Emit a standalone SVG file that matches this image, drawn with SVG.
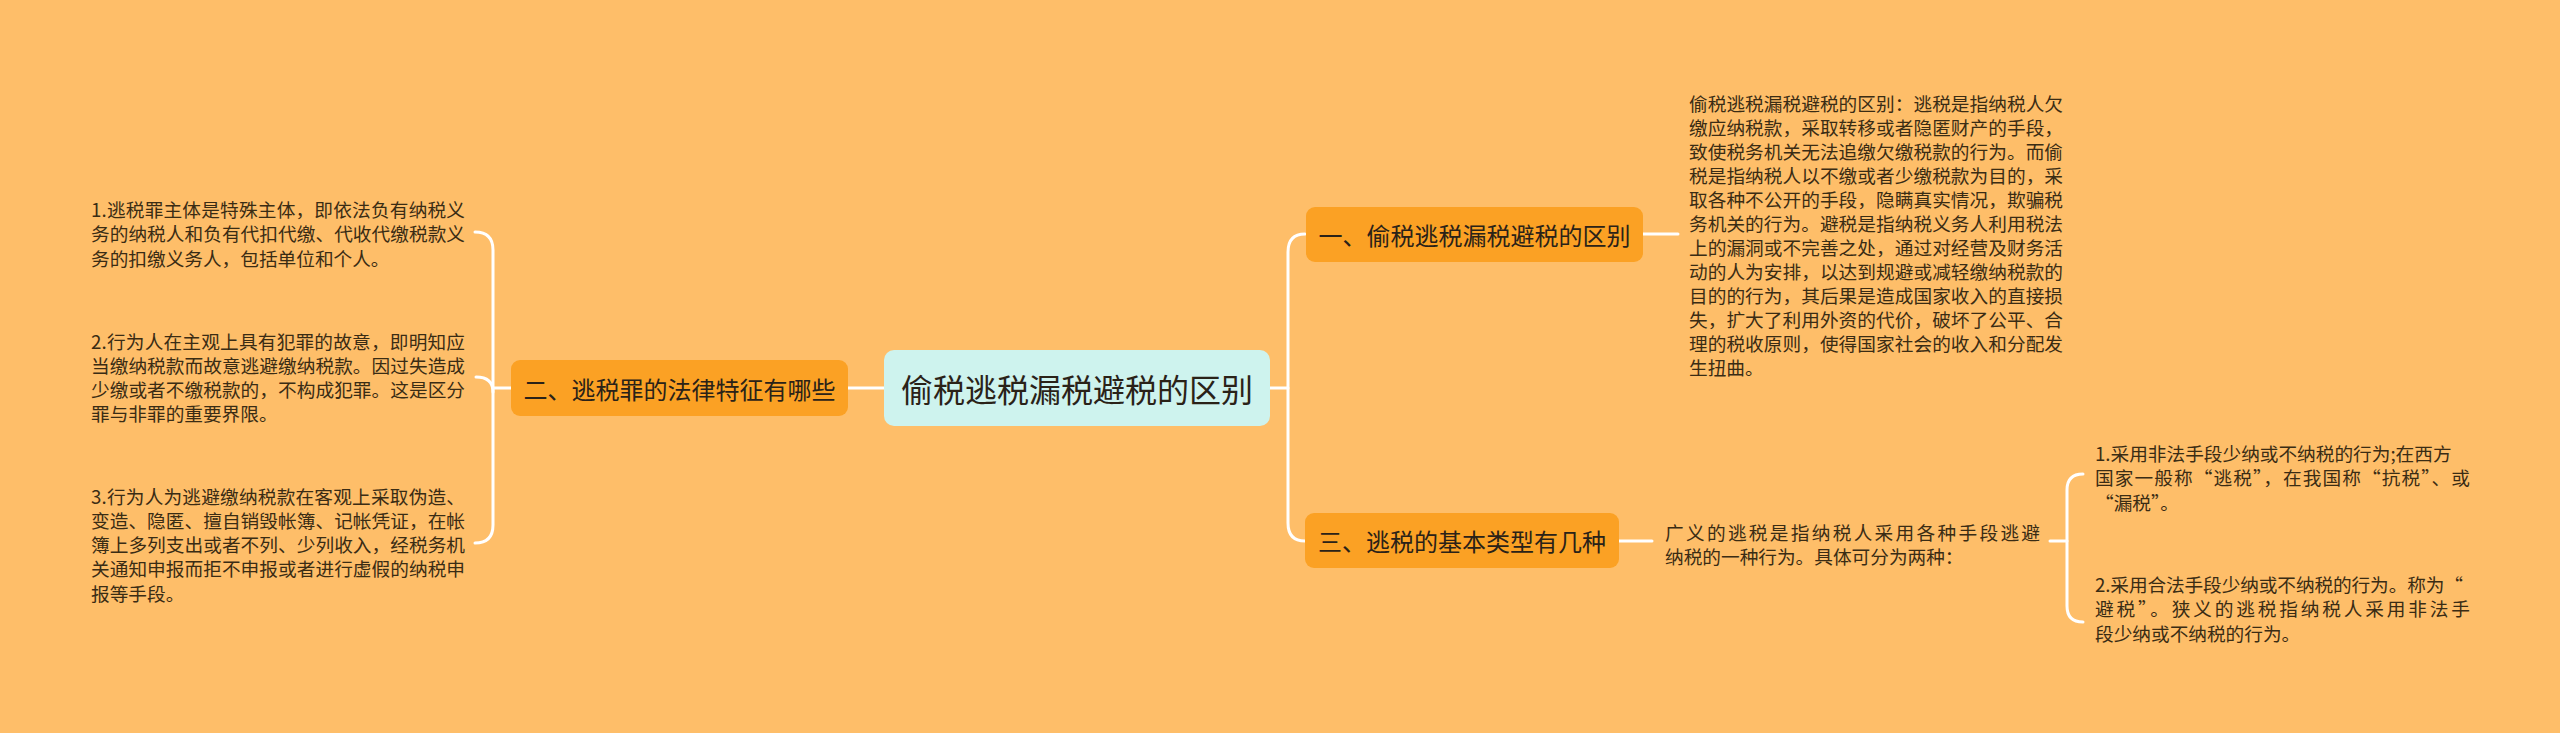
<svg xmlns="http://www.w3.org/2000/svg" width="2560" height="733" viewBox="0 0 2560 733">
<style>
.bg{fill:#FEBE69}
.node{fill:#FBA124}
.root{fill:#CEF3EE}
.lbl{font-family:"Noto Sans CJK SC","Noto Sans",sans-serif;fill:#2a2218;text-anchor:middle;dominant-baseline:central}
.t{font-family:"Noto Sans CJK SC","Noto Sans",sans-serif;font-size:18.67px;fill:#3a2c14;dominant-baseline:central}
.c{fill:none;stroke:#FFFFFF;stroke-width:3;stroke-linecap:round;stroke-linejoin:round}
</style>
<rect class="bg" x="0" y="0" width="2560" height="733"/>
<g id="connectors">
<path class="c" d="M884,388 H848"/>
<path class="c" d="M512,388 H493 V250 Q493,232 475,232"/>
<path class="c" d="M493,392 Q493,377 476,377"/>
<path class="c" d="M493,388 V525 Q493,543 475,543"/>
<path class="c" d="M1270,388 H1288 V252 Q1288,234 1305,234"/>
<path class="c" d="M1288,388 V523 Q1288,541 1305,541"/>
<path class="c" d="M1643,234 H1678"/>
<path class="c" d="M1619,541 H1652"/>
<path class="c" d="M2050,541 H2067 V490 Q2067,474 2083,474"/>
<path class="c" d="M2067,541 V606 Q2067,622 2083,622"/>
</g>
<g id="root">
<rect class="root" x="884" y="350" width="386" height="76" rx="10"/>
<text class="lbl" x="1077" y="388" font-size="32">偷税逃税漏税避税的区别</text>
</g>
<g id="n2">
<rect class="node" x="511" y="360" width="337" height="56" rx="9"/>
<text class="lbl" x="679.5" y="388" font-size="24">二、逃税罪的法律特征有哪些</text>
</g>
<g id="n1">
<rect class="node" x="1306" y="207" width="337" height="55" rx="9"/>
<text class="lbl" x="1474.5" y="234" font-size="24">一、偷税逃税漏税避税的区别</text>
</g>
<g id="n3">
<rect class="node" x="1305" y="513" width="314" height="55" rx="9"/>
<text class="lbl" x="1462" y="540.5" font-size="24">三、逃税的基本类型有几种</text>
</g>
<g id="n2-1">
<text class="t" x="91" y="208" textLength="374" lengthAdjust="spacing">1.逃税罪主体是特殊主体，即依法负有纳税义</text>
<text class="t" x="91" y="232.5" textLength="374" lengthAdjust="spacing">务的纳税人和负有代扣代缴、代收代缴税款义</text>
<text class="t" x="91" y="257">务的扣缴义务人，包括单位和个人。</text>
</g>
<g id="n2-2">
<text class="t" x="91" y="340" textLength="374" lengthAdjust="spacing">2.行为人在主观上具有犯罪的故意，即明知应</text>
<text class="t" x="91" y="364" textLength="374" lengthAdjust="spacing">当缴纳税款而故意逃避缴纳税款。因过失造成</text>
<text class="t" x="91" y="388" textLength="374" lengthAdjust="spacing">少缴或者不缴税款的，不构成犯罪。这是区分</text>
<text class="t" x="91" y="412">罪与非罪的重要界限。</text>
</g>
<g id="n2-3">
<text class="t" x="91" y="495" textLength="374" lengthAdjust="spacing">3.行为人为逃避缴纳税款在客观上采取伪造、</text>
<text class="t" x="91" y="519.2" textLength="374" lengthAdjust="spacing">变造、隐匿、擅自销毁帐簿、记帐凭证，在帐</text>
<text class="t" x="91" y="543.5" textLength="374" lengthAdjust="spacing">簿上多列支出或者不列、少列收入，经税务机</text>
<text class="t" x="91" y="567.7" textLength="374" lengthAdjust="spacing">关通知申报而拒不申报或者进行虚假的纳税申</text>
<text class="t" x="91" y="592">报等手段。</text>
</g>
<g id="n1-1">
<text class="t" x="1689" y="102" textLength="374" lengthAdjust="spacing">偷税逃税漏税避税的区别：逃税是指纳税人欠</text>
<text class="t" x="1689" y="126" textLength="374" lengthAdjust="spacing">缴应纳税款，采取转移或者隐匿财产的手段，</text>
<text class="t" x="1689" y="150" textLength="374" lengthAdjust="spacing">致使税务机关无法追缴欠缴税款的行为。而偷</text>
<text class="t" x="1689" y="174" textLength="374" lengthAdjust="spacing">税是指纳税人以不缴或者少缴税款为目的，采</text>
<text class="t" x="1689" y="198" textLength="374" lengthAdjust="spacing">取各种不公开的手段，隐瞒真实情况，欺骗税</text>
<text class="t" x="1689" y="222" textLength="374" lengthAdjust="spacing">务机关的行为。避税是指纳税义务人利用税法</text>
<text class="t" x="1689" y="246" textLength="374" lengthAdjust="spacing">上的漏洞或不完善之处，通过对经营及财务活</text>
<text class="t" x="1689" y="270" textLength="374" lengthAdjust="spacing">动的人为安排，以达到规避或减轻缴纳税款的</text>
<text class="t" x="1689" y="294" textLength="374" lengthAdjust="spacing">目的的行为，其后果是造成国家收入的直接损</text>
<text class="t" x="1689" y="318" textLength="374" lengthAdjust="spacing">失，扩大了利用外资的代价，破坏了公平、合</text>
<text class="t" x="1689" y="342" textLength="374" lengthAdjust="spacing">理的税收原则，使得国家社会的收入和分配发</text>
<text class="t" x="1689" y="366">生扭曲。</text>
</g>
<g id="n3-1">
<text class="t" x="1665" y="531" textLength="375" lengthAdjust="spacing">广义的逃税是指纳税人采用各种手段逃避</text>
<text class="t" x="1665" y="555">纳税的一种行为。具体可分为两种：</text>
</g>
<g id="n3-1-1">
<text class="t" x="2095" y="452">1.采用非法手段少纳或不纳税的行为;在西方</text>
<text class="t" x="2095" y="476.5" textLength="375" lengthAdjust="spacing">国家一般称“逃税”，在我国称“抗税”、或</text>
<text class="t" x="2095" y="501">“漏税”。</text>
</g>
<g id="n3-1-2">
<text class="t" x="2095" y="583" textLength="368" lengthAdjust="spacing">2.采用合法手段少纳或不纳税的行为。称为“</text>
<text class="t" x="2095" y="607.5" textLength="375" lengthAdjust="spacing">避税”。狭义的逃税指纳税人采用非法手</text>
<text class="t" x="2095" y="632">段少纳或不纳税的行为。</text>
</g>
</svg>
